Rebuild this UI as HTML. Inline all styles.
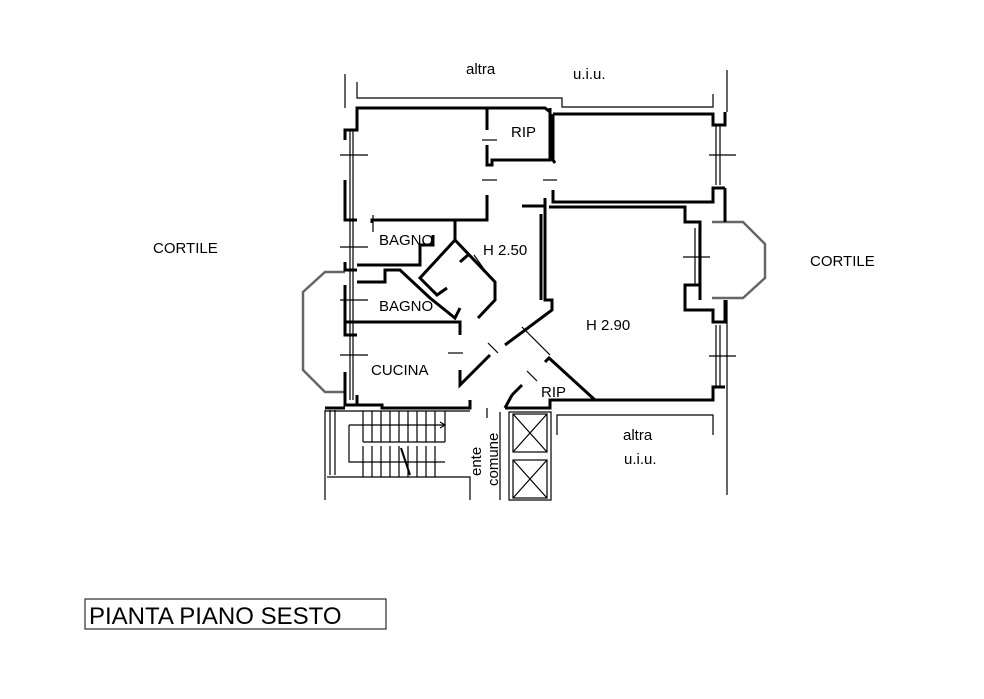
<!DOCTYPE html>
<html><head><meta charset="utf-8"><style>
html,body{margin:0;padding:0;background:#fff;width:984px;height:699px;overflow:hidden}
svg{display:block}
text{font-family:"Liberation Sans",sans-serif;fill:#000}
</style></head><body>
<svg width="984" height="699" viewBox="0 0 984 699" xmlns="http://www.w3.org/2000/svg">
<g fill="none" stroke="#000">
<g stroke-width="1.2">
<polyline points="357,82 357,98 562,98 562,107 713,107 713,94"/>
<line x1="345" y1="74" x2="345" y2="108"/>
<line x1="727" y1="70" x2="727" y2="112"/>
<line x1="727" y1="300" x2="727" y2="410"/>
<polyline points="557,435 557,415 713,415 713,435"/>
<line x1="727" y1="410" x2="727" y2="495"/>
<line x1="350" y1="130" x2="350" y2="400"/>
<line x1="353" y1="130" x2="353" y2="400"/>
<line x1="340" y1="155" x2="368" y2="155"/>
<line x1="340" y1="247" x2="368" y2="247"/>
<line x1="340" y1="300" x2="368" y2="300"/>
<line x1="340" y1="355" x2="368" y2="355"/>
<line x1="373" y1="215" x2="373" y2="232"/>
<line x1="716" y1="125" x2="716" y2="185"/><line x1="720" y1="125" x2="720" y2="185"/>
<line x1="709" y1="155" x2="736" y2="155"/>
<line x1="695" y1="228" x2="695" y2="285"/><line x1="699" y1="228" x2="699" y2="285"/>
<line x1="683" y1="257" x2="710" y2="257"/>
<line x1="716" y1="325" x2="716" y2="387"/><line x1="720" y1="325" x2="720" y2="387"/>
<line x1="709" y1="356" x2="736" y2="356"/>
<line x1="482" y1="140" x2="497" y2="140"/>
<line x1="482" y1="180" x2="497" y2="180"/>
<line x1="543" y1="180" x2="557" y2="180"/>
<line x1="474" y1="255" x2="486" y2="272"/>
<line x1="448" y1="353" x2="463" y2="353"/>
<line x1="488" y1="343" x2="498" y2="353"/>
<line x1="527" y1="371" x2="537" y2="381"/>
<line x1="522" y1="327" x2="550" y2="355"/>
<line x1="487" y1="408" x2="487" y2="418"/>
<polyline points="325,410 325,500"/>
<polyline points="330,410 330,475"/><polyline points="335,410 335,475"/>
<line x1="325" y1="411" x2="470" y2="411"/>
<polyline points="327,477 470,477 470,500"/>
<polyline points="349,425 445,425"/>
<polyline points="349,425 349,462 445,462"/>
<polyline points="363,442 445,442"/>
<line x1="363" y1="411" x2="363" y2="442"/><line x1="372" y1="411" x2="372" y2="442"/>
<line x1="381" y1="411" x2="381" y2="442"/><line x1="390" y1="411" x2="390" y2="442"/>
<line x1="399" y1="411" x2="399" y2="442"/><line x1="408" y1="411" x2="408" y2="442"/>
<line x1="417" y1="411" x2="417" y2="442"/><line x1="426" y1="411" x2="426" y2="442"/>
<line x1="435" y1="411" x2="435" y2="442"/><line x1="445" y1="411" x2="445" y2="442"/>
<line x1="363" y1="446" x2="363" y2="477"/><line x1="372" y1="446" x2="372" y2="477"/>
<line x1="381" y1="446" x2="381" y2="477"/><line x1="390" y1="446" x2="390" y2="477"/>
<line x1="399" y1="446" x2="399" y2="477"/><line x1="408" y1="446" x2="408" y2="477"/>
<line x1="417" y1="446" x2="417" y2="477"/><line x1="426" y1="446" x2="426" y2="477"/>
<line x1="435" y1="446" x2="435" y2="477"/>
<line x1="401" y1="448" x2="410" y2="475" stroke-width="2"/>
<polyline points="440,422 445,425 440,428"/>
<rect x="509" y="412" width="42" height="88"/>
<rect x="513" y="414" width="34" height="38"/><line x1="513" y1="414" x2="547" y2="452"/><line x1="547" y1="414" x2="513" y2="452"/>
<rect x="513" y="460" width="34" height="38"/><line x1="513" y1="460" x2="547" y2="498"/><line x1="547" y1="460" x2="513" y2="498"/>
<line x1="500" y1="412" x2="500" y2="500"/>
</g>
<g stroke="#666" stroke-width="2.5">
<polyline points="345,272 325,272 303,292 303,370 325,392 345,392"/>
<polyline points="712,222 743,222 765,244 765,278 743,298 712,298"/>
</g>
<g stroke-width="3" stroke-linejoin="miter">
<polyline points="347,130 357,130 357,108 487,108 487,130"/>
<polyline points="550,108 550,160 492,160 492,165 487,165 487,145"/>
<polyline points="487,108 545,108 550,112"/>
<polyline points="487,195 487,220 372,220 372,223"/>
<polyline points="345,140 345,130 357,130"/>
<polyline points="345,180 345,220 357,220"/>
<polyline points="357,265 420,265 420,245 433,245 433,235"/>
<polyline points="345,262 345,270 357,270"/>
<polyline points="455,220 455,240"/>
<polyline points="455,240 420,278 437,295 447,288"/>
<polyline points="455,240 495,282 495,300 478,318"/>
<polyline points="460,262 468,255"/>
<polyline points="357,282 385,282 385,270 400,270 430,298 455,318 460,308"/>
<polyline points="345,285 345,322 460,322 460,335"/>
<polyline points="460,370 460,385 490,355"/>
<polyline points="345,322 345,335 357,335"/>
<polyline points="345,372 345,405 357,405 357,395"/>
<polyline points="357,405 382,405 382,408 470,408 470,400"/>
<polyline points="325,408 345,408"/>
<polyline points="553,114 713,114 713,125 725,125 725,112"/>
<polyline points="553,114 553,160 555,163"/>
<polyline points="553,190 553,202 713,202 713,188 725,188"/>
<polyline points="522,206 545,206 545,198"/>
<polyline points="549,207 685,207 685,222 700,222 700,300"/>
<polyline points="725,188 725,222"/>
<polyline points="685,300 685,285 700,285"/>
<polyline points="685,300 685,310 713,310 713,322 725,322 725,300"/>
<polyline points="725,387 713,387 713,400 595,400 549,358 545,362"/>
<polyline points="545,207 545,300 552,300 552,310 505,345"/>
<polyline points="541,214 541,300"/>
<polyline points="512,395 522,385"/>
<polyline points="505,408 512,395"/>
<polyline points="505,408 550,408 550,400 595,400"/>
</g>
<rect x="85" y="599" width="301" height="30" stroke-width="1"/>
</g>
<g font-size="15">
<text x="466" y="74">altra</text>
<text x="573" y="79">u.i.u.</text>
<text x="511" y="137">RIP</text>
<text x="153" y="253">CORTILE</text>
<text x="810" y="266">CORTILE</text>
<text x="379" y="245">BAGNO</text>
<text x="483" y="255">H 2.50</text>
<text x="379" y="311">BAGNO</text>
<text x="586" y="330">H 2.90</text>
<text x="371" y="375">CUCINA</text>
<text x="541" y="397">RIP</text>
<text x="623" y="440">altra</text>
<text x="624" y="464">u.i.u.</text>
<text transform="translate(481,476) rotate(-90)">ente</text>
<text transform="translate(498,486) rotate(-90)">comune</text>
</g>
<text x="89" y="624" font-size="24">PIANTA PIANO SESTO</text>
</svg>
</body></html>
